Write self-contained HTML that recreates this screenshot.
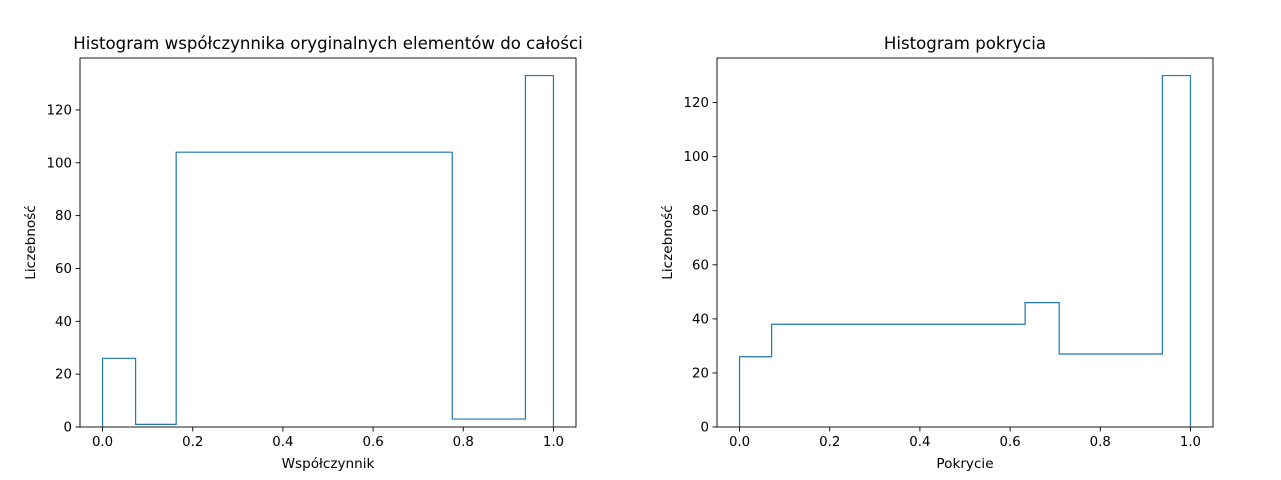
<!DOCTYPE html>
<html><head><meta charset="utf-8">
<style>
html,body{margin:0;padding:0;background:#fff;}
svg{display:block;font-family:"DejaVu Sans","Liberation Sans",sans-serif;}
</style></head>
<body>
<svg id="chart" width="1281" height="480" viewBox="0 0 1281 480" xmlns="http://www.w3.org/2000/svg"></svg>
<script>
// Left histogram data
const leftEdges = [0.0, 0.0733, 0.1633, 0.7756, 0.9378, 1.0];
const leftCounts = [26, 1, 104, 3, 133];
const leftYTicks = [0, 20, 40, 60, 80, 100, 120];
// Right histogram data
const rightEdges = [0.0, 0.0711, 0.6333, 0.7089, 0.9378, 1.0];
const rightCounts = [26, 38, 46, 27, 130];
const rightYTicks = [0, 20, 40, 60, 80, 100, 120];
const xTicks = [0.0, 0.2, 0.4, 0.6, 0.8, 1.0];

const NS = "http://www.w3.org/2000/svg";
const svg = document.getElementById('chart');
function mk(tag, attrs, parent) {
  const e = document.createElementNS(NS, tag);
  for (const k in attrs) e.setAttribute(k, attrs[k]);
  (parent || svg).appendChild(e);
  return e;
}

function panel(box, edges, counts, yTicks, title, xlabel, ylabel, prefix) {
  const g = mk('g', {});
  
  
  const x0 = -0.05, x1 = 1.05;
  const yMax = Math.max(...counts) * 1.05;
  const sx = v => box.l + (v - x0) / (x1 - x0) * (box.r - box.l);
  const sy = v => box.b - v / yMax * (box.b - box.t);

  let d = `M${sx(edges[0])},${sy(0)}`;
  for (let i = 0; i < counts.length; i++) {
    d += ` L${sx(edges[i])},${sy(counts[i])} L${sx(edges[i+1])},${sy(counts[i])}`;
  }
  d += ` L${sx(edges[edges.length-1])},${sy(0)}`;
  const p = mk('path', {d: d, fill: 'none', stroke: '#1f77b4', 'stroke-width': 1.2}, g);
  
  

  const frame = mk('rect', {x: box.l, y: box.t, width: box.r - box.l, height: box.b - box.t, fill: 'none', stroke: '#000', 'stroke-width': 0.9}, g);
  
  

  xTicks.forEach(v => {
    const x = sx(v);
    mk('line', {x1: x, x2: x, y1: box.b, y2: box.b + 4.5, stroke: '#000', 'stroke-width': 0.9}, g);
    const t = mk('text', {x: x, y: box.b + 19, 'text-anchor': 'middle', 'font-size': 13.33}, g);
    t.textContent = v.toFixed(1);
    
    
  });
  yTicks.forEach(v => {
    const y = sy(v);
    mk('line', {x1: box.l - 4.5, x2: box.l, y1: y, y2: y, stroke: '#000', 'stroke-width': 0.9}, g);
    const t = mk('text', {x: box.l - 8, y: y + 4.5, 'text-anchor': 'end', 'font-size': 13.33}, g);
    t.textContent = v;
    
    
  });
  const tt = mk('text', {x: (box.l + box.r) / 2, y: box.t - 9, 'text-anchor': 'middle', 'font-size': 16.6}, g);
  tt.textContent = title;
  
  
  const xl = mk('text', {x: (box.l + box.r) / 2, y: box.b + 41, 'text-anchor': 'middle', 'font-size': 13.6}, g);
  xl.textContent = xlabel;
  
  
  const cy = (box.t + box.b) / 2;
  const yl = mk('text', {x: box.l - 45, y: cy, 'text-anchor': 'middle', 'font-size': 13.6, transform: `rotate(-90 ${box.l - 45} ${cy})`}, g);
  yl.textContent = ylabel;
  
  
}

panel({l: 80, r: 576, t: 58, b: 427}, leftEdges, leftCounts, leftYTicks,
  'Histogram współczynnika oryginalnych elementów do całości', 'Współczynnik', 'Liczebność', 'left');
panel({l: 717, r: 1213, t: 58, b: 427}, rightEdges, rightCounts, rightYTicks,
  'Histogram pokrycia', 'Pokrycie', 'Liczebność', 'right');
</script>
</body></html>
